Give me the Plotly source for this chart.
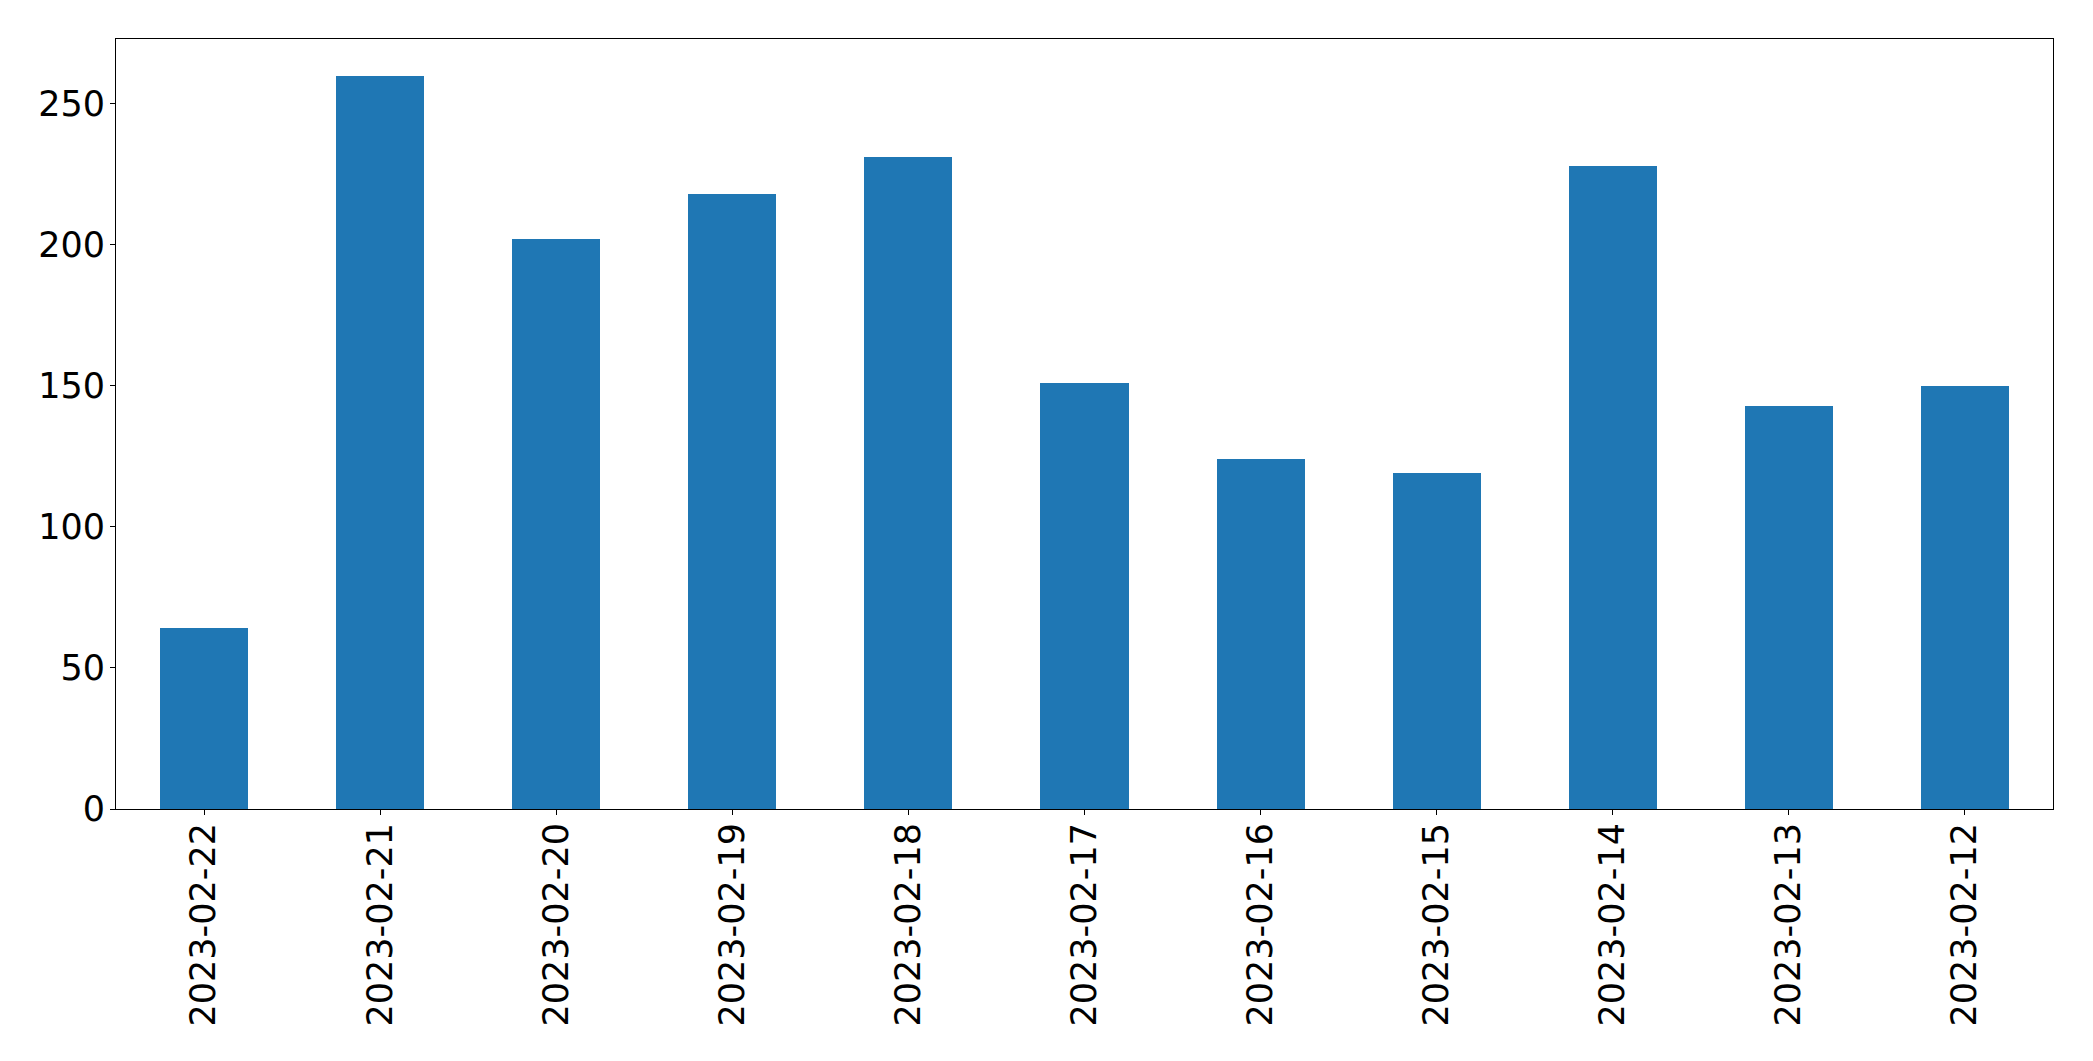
import plotly.graph_objects as go

dates = ["2023-02-22", "2023-02-21", "2023-02-20", "2023-02-19", "2023-02-18",
         "2023-02-17", "2023-02-16", "2023-02-15", "2023-02-14", "2023-02-13",
         "2023-02-12"]
counts = [64, 260, 202, 218, 231, 151, 124, 119, 228, 143, 150]
y_ticks = [0, 50, 100, 150, 200, 250]

fig = go.Figure(go.Bar(x=dates, y=counts, width=0.5, marker_color="#1f77b4",
                       marker_line_width=0))

axis_common = dict(showline=True, linecolor="black", linewidth=1.1, mirror=True,
                   ticks="outside", ticklen=5, tickwidth=1.1, tickcolor="black",
                   showgrid=False, zeroline=False,
                   tickfont=dict(family="DejaVu Sans", size=35, color="black"))

fig.update_xaxes(type="category", range=[-0.5, len(dates) - 0.5], tickangle=-90,
                 ticklabelstandoff=-6, **axis_common)
fig.update_yaxes(range=[0, 273], tickvals=y_ticks, ticklabelstandoff=-2, **axis_common)

fig.update_layout(width=2093, height=1061, margin=dict(l=108, r=48, t=31, b=260),
                  plot_bgcolor="white", paper_bgcolor="white", showlegend=False,
                  bargap=0)

fig.write_html("out.html")
